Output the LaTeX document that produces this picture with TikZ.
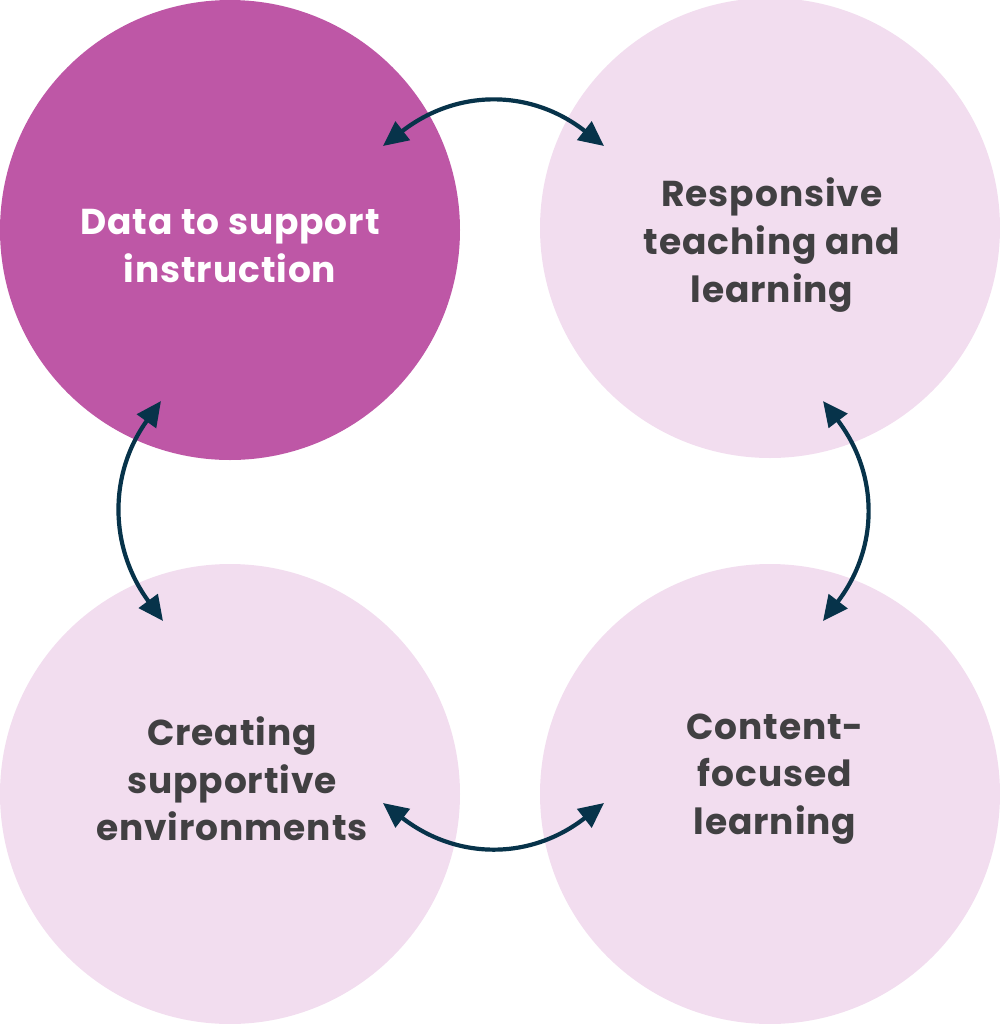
\documentclass[tikz,border=0pt]{standalone}
\usepackage{fontspec}
\setmainfont{Poppins}[LetterSpace=2.5]
\usetikzlibrary{arrows.meta}
\definecolor{darkmag}{HTML}{BE57A6}
\definecolor{lightpink}{HTML}{F2DDEF}
\definecolor{navy}{HTML}{07334A}
\definecolor{txtgray}{HTML}{414042}
\tikzset{
  circ/.style={circle, minimum size=230pt, inner sep=0pt, outer sep=0pt},
  lbl/.style={align=center, font=\fontsize{18}{23.8}\selectfont\bfseries},
  arr/.style={navy, line width=2.1pt, {Triangle[length=12.5pt,width=11.5pt]}-{Triangle[length=12.5pt,width=11.5pt]}}
}
\begin{document}
\begin{tikzpicture}[x=0.5pt,y=-0.5pt]
\useasboundingbox (0,0) rectangle (1000,1024);
\node[circ, fill=darkmag] (tl) at (230,230) {};
\node[circ, fill=lightpink] (tr) at (770,228) {};
\node[circ, fill=lightpink] (bl) at (230,794) {};
\node[circ, fill=lightpink] (br) at (770,794) {};
\node[lbl, text=white] (tltxt) at (230,246) {Data to support\\instruction};
\node[lbl, text=txtgray] (trtxt) at (772,245) {Responsive\\teaching and\\learning};
\node[lbl, text=txtgray] (bltxt) at (232,779) {Creating\\supportive\\environments};
\node[lbl, text=txtgray] (brtxt) at (775,779) {Content-\\focused\\learning};
\coordinate (a1) at (383,146);
\coordinate (a2) at (604,146);
\coordinate (b1) at (161,401);
\coordinate (b2) at (163,621);
\coordinate (c1) at (823,401);
\coordinate (c2) at (823,621);
\coordinate (d1) at (383,803);
\coordinate (d2) at (604,803);
\draw[arr] (a1) .. controls (457,88.7) and (530.7,88.7) .. (a2);
\draw[arr] (b1) .. controls (108.3,474.3) and (109,547.7) .. (b2);
\draw[arr] (c1) .. controls (879,474.3) and (879,547.7) .. (c2);
\draw[arr] (d1) .. controls (457,860.3) and (530.7,860.3) .. (d2);
\end{tikzpicture}
\end{document}
